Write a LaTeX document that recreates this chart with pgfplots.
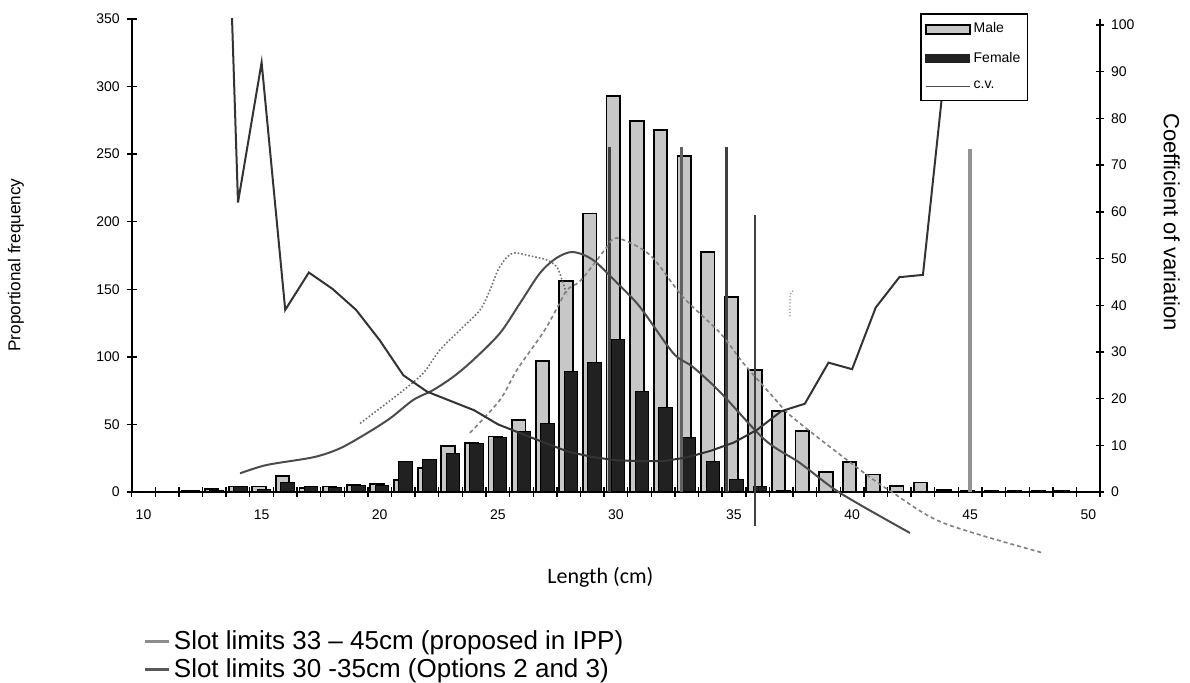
\documentclass[border=0pt]{standalone}
\usepackage{fontspec}
\setmainfont{Liberation Sans}
\newfontfamily\calibri{Carlito}
\usepackage{pgfplots}
\usepackage{pgfplotstable}
\pgfplotsset{compat=1.18}

\definecolor{malefill}{gray}{0.78}
\definecolor{femalefill}{gray}{0.13}

% proportional frequency by length class
\pgfplotstableread{
len male female
10 0 0
11 0 0
12 1 1
13 2 1
14 4 4
15 4 2
16 12 7
17 3 4
18 4 3
19 5 5
20 6 5
21 9 22.5
22 18 24
23 34 28.5
24 36 36
25 41 40.5
26 53 45
27 97 51
28 156 89
29 206 96
30 293 113
31 274.5 74.5
32 268 62.5
33 248.5 40.5
34 177.5 22.5
35 144 9.5
36 90.5 4
37 60 1
38 45 0.5
39 15 0
40 22 0
41 13 0
42 4.5 0
43 7 0
44 1.5 0
45 0.5 0
46 0.8 0
47 0.8 0
48 0.5 0
49 0.8 0
50 0 0
}\bars

% coefficient of variation
\pgfplotstableread{
len cv
13 218
14 62
15 92
16 39
17 47
18 43.5
19 39
20 32.5
21 25
22 21.5
23 19.5
24 17.5
25 14.5
26 12.5
27 10.5
28 8.6
29 7.5
30 6.8
31 6.6
32 6.6
33 7.4
34 8.8
35 10.6
36 13.4
37 17.3
38 18.9
39 27.7
40 26.3
41 39.5
42 46
43 46.5
44 94
45 100
}\cvdata

\pgfplotsset{
  base/.style={
    scale only axis, width=484.2pt, height=236.5pt,
    at={(65.85pt,95.5pt)}, anchor=south west,
    xmin=9.5, xmax=50.5, enlargelimits=false,
    axis line style={-, black, line width=1.1pt},
    tick align=center,
    ticklabel style={font=\fontsize{7}{8}\selectfont},
    /pgf/number format/assume math mode=true,
  },
}

\begin{document}
\begin{tikzpicture}
\useasboundingbox (0,0) rectangle (595pt,341.5pt);

\begin{axis}[base,
  clip=false,
  ymin=0, ymax=350,
  axis x line*=bottom, axis y line*=left,
  xtick={10,15,...,50},
  minor xtick={9.5,10.5,...,50.5},
  major x tick style={draw=none},
  minor x tick style={black, line width=0.7pt},
  minor tick length=5pt,
  xticklabel style={yshift=-3pt},
  ytick={0,50,...,350},
  major y tick style={black, line width=0.7pt},
  major tick length=5pt,
  xlabel={Length (cm)},
  xlabel style={font=\calibri\fontsize{11}{12}\selectfont,
    at={(axis description cs:0.484,-0.18)}, anchor=center},
  ylabel={Proportional frequency},
  ylabel style={font=\fontsize{8.6}{9}\selectfont,
    at={(axis description cs:-0.1195,0.48)}, anchor=center},
  legend style={at={(axis description cs:0.006,-0.277)}, anchor=north west,
    draw=none, fill=none, font=\fontsize{13}{14}\selectfont,
    row sep=0pt, nodes={inner sep=1.5pt}},
  legend cell align=left,
]
\addlegendimage{legend image code/.code={\draw[black!45, line width=1.5pt] (0pt,0pt) -- (12pt,0pt);}}
\addlegendentry{Slot limits 33 – 45cm (proposed in IPP)}
\addlegendimage{legend image code/.code={\draw[black!65, line width=1.5pt] (0pt,0pt) -- (12pt,0pt);}}
\addlegendentry{Slot limits 30 -35cm (Options 2 and 3)}

\addplot[ybar, bar width=0.57, bar shift=-0.11, fill=malefill, draw=black,
  line width=0.9pt, forget plot] table[x=len, y=male] {\bars};
\addplot[ybar, bar width=0.57, bar shift=0.1, fill=femalefill, draw=black,
  line width=0.5pt, forget plot] table[x=len, y=female] {\bars};

% slot limits 30-35
\addplot[black!75, line width=1.6pt, forget plot] coordinates {(29.72,0) (29.72,255)};
\addplot[black!75, line width=1.6pt, forget plot] coordinates {(34.69,0) (34.69,255)};
% slot limits 33-45
\addplot[black!62, line width=1.6pt, forget plot] coordinates {(32.77,0) (32.77,255)};
\addplot[black!42, line width=2.2pt, forget plot] coordinates {(45.0,0) (45.0,254)};
\addplot[black!75, line width=0.6pt, forget plot] coordinates {(35.89,-25) (35.89,205)};
\addplot[black!45, line width=0.6pt, densely dotted, forget plot] coordinates {(37.37,130) (37.37,146) (37.5,149)};

% hand-drawn curves
\addplot[black!70, line width=1pt, smooth, forget plot] coordinates {
(14.09,13.8) (15.22,20.0) (17.19,25.7) (18.32,32.3) (19.45,43.4) (20.44,54.5)
(21.42,68.1) (22.27,75.5) (23.12,85.3) (23.96,97.7) (25.09,117.5) (25.94,139.7)
(26.79,162.1) (27.49,173.2) (28.18,177.6) (29.03,171.7) (30.05,154.7) (31.02,136.9)
(32.42,102.9) (33.26,92.5) (34.41,74.0) (36.31,38.5) (37.79,21.5) (39.49,-0.7)
(42.45,-30.3)};
\addplot[black!55, line width=0.8pt, densely dotted, smooth, forget plot] coordinates {
(19.17,50.8) (20.86,73.3) (21.84,87.9) (22.55,105.1) (23.4,119.9) (24.25,134.7)
(24.67,149.5) (25.01,164.3) (25.39,173.9) (25.73,176.9) (26.36,174.7) (27.08,171.7)
(27.5,166.5) (27.72,156.9) (27.93,145.8)};
\addplot[black!50, line width=0.8pt, dash pattern=on 2pt off 1.5pt, smooth, forget plot] coordinates {
(23.82,43.7) (25.09,68.1) (25.81,90.3) (26.91,117.7) (27.51,136.2) (27.93,149.5)
(28.48,156) (29.2,171.7) (29.62,181.3) (30.05,188.0) (31.44,175.4) (32.84,144.3)
(34.41,117.7) (35.39,95.5) (36.66,70.3) (37.51,54.8) (40.34,16.3) (41.74,-0.7)
(43.86,-22.9) (48.1,-45.2)};
\end{axis}

\begin{axis}[base,
  ymin=0, ymax=101.3,
  axis x line=none, axis y line*=right,
  ytick={0,10,...,100},
  major y tick style={black, line width=0.7pt},
  major tick length=4pt,
  ylabel={Coefficient of variation},
  ylabel style={font=\fontsize{11}{12}\selectfont, rotate=180,
    at={(axis description cs:1.074,0.571)}, anchor=center},
  legend style={at={(axis description cs:0.9257,1.0127)}, anchor=north east,
    draw=black, line width=0.8pt, fill=white, font=\fontsize{7}{8}\selectfont,
    row sep=5pt, inner xsep=2pt, inner ysep=3pt, nodes={inner sep=1.5pt}},
  legend cell align=left,
]
\addlegendimage{legend image code/.code={\draw[fill=malefill, draw=black, line width=0.8pt] (0pt,-2.2pt) rectangle (22pt,2.2pt);}}
\addlegendentry{Male}
\addlegendimage{legend image code/.code={\draw[fill=femalefill, draw=femalefill, line width=0.5pt] (0pt,-2.2pt) rectangle (22pt,2.2pt);}}
\addlegendentry{Female}
\addplot[black!80, line width=1pt,
  legend image code/.code={\draw[black!70, line width=0.6pt] (0pt,0pt) -- (22pt,0pt);}]
  table[x=len, y=cv] {\cvdata};
\addlegendentry{c.v.}
\end{axis}
\end{tikzpicture}
\end{document}
